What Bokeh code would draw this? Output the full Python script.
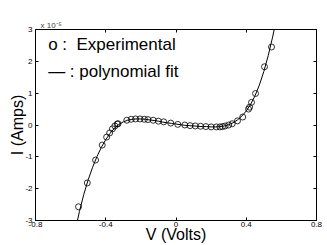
from bokeh.plotting import figure
from bokeh.models import LinearAxis, Label, FixedTicker
from bokeh.embed import file_html
from bokeh.resources import INLINE

# Experimental data (V in volts, I in units of 1e-5 A)
v_exp = [-0.555, -0.505, -0.458, -0.420, -0.395, -0.378, -0.362, -0.348, -0.335, -0.330,
         -0.280, -0.255, -0.230, -0.205, -0.180, -0.160, -0.130, -0.100, -0.070, -0.030,
         0.010, 0.050, 0.080, 0.110, 0.140, 0.170, 0.200, 0.230, 0.250, 0.265,
         0.280, 0.300, 0.320, 0.350, 0.380, 0.413, 0.419, 0.430, 0.453, 0.504, 0.544]
i_exp = [-2.57, -1.82, -1.10, -0.63, -0.38, -0.25, -0.12, -0.03, 0.03, 0.04,
         0.15, 0.18, 0.19, 0.19, 0.18, 0.17, 0.15, 0.12, 0.10, 0.06,
         0.02, 0.00, -0.02, -0.03, -0.04, -0.05, -0.06, -0.06, -0.06, -0.05,
         -0.03, 0.00, 0.04, 0.13, 0.25, 0.50, 0.56, 0.71, 0.99, 1.83, 2.45]

# Polynomial fit curve
v_fit = [-0.565, -0.55, -0.525, -0.50, -0.475, -0.45, -0.425, -0.40, -0.375, -0.35,
         -0.325, -0.30, -0.275, -0.25, -0.225, -0.20, -0.175, -0.15, -0.125, -0.10,
         -0.075, -0.05, -0.025, 0.0, 0.025, 0.05, 0.075, 0.10, 0.125, 0.15,
         0.175, 0.20, 0.225, 0.25, 0.275, 0.30, 0.325, 0.35, 0.375, 0.40,
         0.425, 0.45, 0.475, 0.50, 0.525, 0.55, 0.575]
i_fit = [-3.10, -2.72, -2.18, -1.72, -1.33, -0.99, -0.70, -0.46, -0.26, -0.10,
         0.02, 0.10, 0.15, 0.18, 0.19, 0.19, 0.18, 0.16, 0.14, 0.12,
         0.09, 0.07, 0.05, 0.03, 0.01, -0.01, -0.02, -0.03, -0.04, -0.05,
         -0.05, -0.06, -0.06, -0.05, -0.03, 0.01, 0.07, 0.16, 0.28, 0.44,
         0.65, 0.92, 1.26, 1.68, 2.18, 2.76, 3.42]

x_ticks = [-0.8, -0.4, 0.0, 0.4, 0.8]
x_tick_labels = ["-0.8", "-0.4", "0", "0.4", "0.8"]
y_ticks = [-3, -2, -1, 0, 1, 2, 3]
y_tick_labels = ["-3", "-2", "-1", "0", "1", "2", "3"]

FONT = "Liberation Sans"
NB = "\u00a0"

p = figure(width=327, height=245, output_backend="svg", toolbar_location=None,
           x_range=(-0.8, 0.8), y_range=(-3, 3),
           min_border_left=35, min_border_right=11, min_border_top=29, min_border_bottom=23)
p.grid.visible = False
p.outline_line_color = "black"
p.outline_line_width = 1

p.title.text = "x 10\u207b\u2075"
p.title.text_font = FONT
p.title.text_font_size = "8px"
p.title.text_font_style = "normal"
p.title.align = "left"
p.title.offset = 5
p.title.standoff = 0

p.line(v_fit, i_fit, line_color="black", line_width=1)
p.scatter(v_exp, i_exp, marker="circle", size=6, fill_color=None, line_color="black", line_width=0.8)

def style(ax):
    ax.major_tick_in = 3
    ax.major_tick_out = 0
    ax.minor_tick_line_color = None
    ax.axis_line_color = "black"
    ax.major_tick_line_color = "black"
    ax.major_label_text_font = FONT
    ax.major_label_text_font_size = "8px"
    ax.major_label_text_color = "black"
    ax.axis_label_text_font = FONT
    ax.axis_label_text_font_style = "normal"
    ax.axis_label_text_color = "black"
    ax.axis_label_text_font_size = "16px"

xa = p.xaxis[0]
style(xa)
xa.ticker = FixedTicker(ticks=x_ticks)
xa.major_label_overrides = dict(zip(x_ticks, x_tick_labels))
xa.major_label_standoff = 1
xa.axis_label = "V (Volts)"
xa.axis_label_standoff = -4

ya = p.yaxis[0]
style(ya)
ya.ticker = FixedTicker(ticks=y_ticks)
ya.major_label_overrides = dict(zip(y_ticks, y_tick_labels))
ya.major_label_standoff = 3
ya.axis_label = "I (Amps)"
ya.axis_label_standoff = -4

top = LinearAxis(ticker=FixedTicker(ticks=x_ticks))
style(top)
top.major_label_overrides = {t: "" for t in x_ticks}
top.major_label_standoff = 0
p.add_layout(top, "above")

right = LinearAxis(ticker=FixedTicker(ticks=y_ticks))
style(right)
right.major_label_overrides = {t: "" for t in y_ticks}
right.major_label_standoff = 0
p.add_layout(right, "right")

p.add_layout(Label(x=-0.728, y=2.52, text="o :" + NB * 2 + "Experimental", text_font=FONT,
                   text_font_size="17px", text_baseline="middle", text_color="black"))
p.add_layout(Label(x=-0.728, y=1.68, text="\u2014 : polynomial fit", text_font=FONT,
                   text_font_size="17px", text_baseline="middle", text_color="black"))

open("out.html", "w").write(file_html(p, INLINE))
